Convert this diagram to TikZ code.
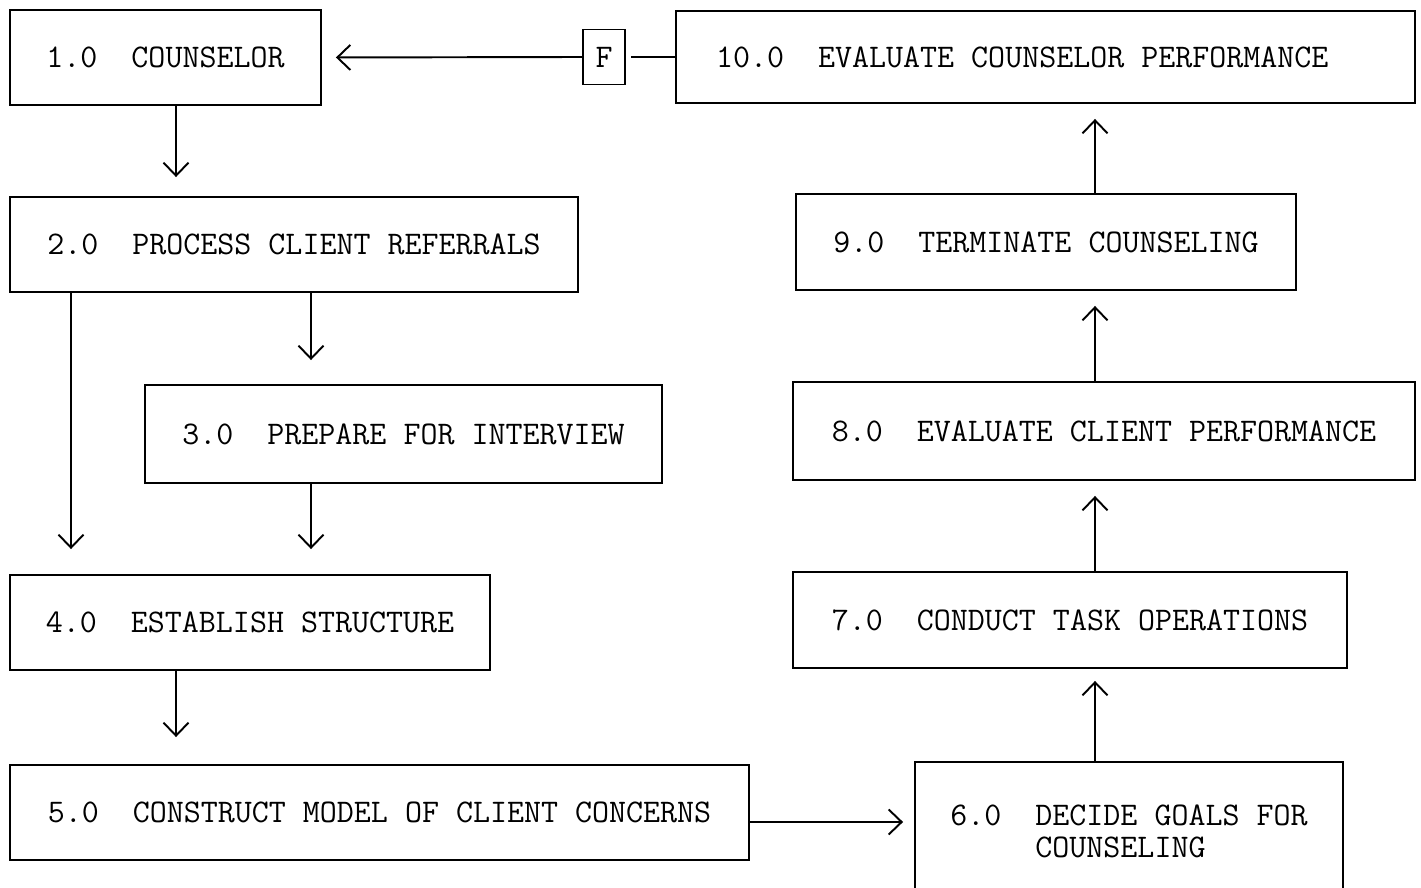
\documentclass[tikz,border=0pt]{standalone}
\usetikzlibrary{arrows.meta,calc}
\tikzset{every picture/.style={/utils/exec={\ttfamily}}}
\tikzset{
  task/.style={draw, line width=1.1pt, inner sep=0pt, font=\fontsize{18.8}{18.2}\selectfont},
  flow/.style={-{Straight Barb[length=0.26cm,width=0.5cm]}, line width=1.1pt},
}

\begin{document}
\begin{tikzpicture}[x=0.02cm, y=-0.02cm]
  \useasboundingbox (0,0) rectangle (1421,888);
  \clip (0,0) rectangle (1421,888);

  % left column
  \node [task, minimum width=6.22cm, minimum height=1.90cm] (b1) at (165.5,57.5) {1.0\ \ COUNSELOR};
  \node [task, minimum width=11.36cm, minimum height=1.90cm] (b2) at (294,244.5) {2.0\ \ PROCESS CLIENT REFERRALS};
  \node [task, minimum width=10.34cm, minimum height=1.96cm] (b3) at (403.5,434) {3.0\ \ PREPARE FOR INTERVIEW};
  \node [task, minimum width=9.60cm, minimum height=1.90cm] (b4) at (250,622.5) {4.0\ \ ESTABLISH STRUCTURE};
  \node [task, minimum width=14.78cm, minimum height=1.90cm] (b5) at (379.5,812.5) {5.0\ \ CONSTRUCT MODEL OF CLIENT CONCERNS};

  % right column
  \node [task, minimum width=8.56cm, minimum height=2.76cm, align=left] (b6) at (1129,831)
    {6.0\ \ DECIDE GOALS FOR\\\hphantom{6.0\ \ }COUNSELING};
  \node [task, minimum width=11.08cm, minimum height=1.92cm] (b7) at (1070,620) {7.0\ \ CONDUCT TASK OPERATIONS};
  \node [task, minimum width=12.44cm, minimum height=1.96cm] (b8) at (1104,431) {8.0\ \ EVALUATE CLIENT PERFORMANCE};
  \node [task, minimum width=10.00cm, minimum height=1.92cm] (b9) at (1046,242) {9.0\ \ TERMINATE COUNSELING};
  \node [task, inner xsep=0.8cm, minimum height=1.84cm] (b10) at (1045.5,57)
    {\makebox[13.18cm][l]{10.0\ \ EVALUATE COUNSELOR PERFORMANCE}};

  % feedback
  \node [task, minimum width=0.84cm, minimum height=1.10cm] (fb) at (604,57) {F};
  \draw [line width=1.1pt, shorten >=0.1cm] (b10.west) -- (fb.east);
  \draw [flow, shorten >=0.28cm] (fb.west) -- (b1.east);

  \draw [flow, shorten >=0.38cm] ($(b1.south)+(10.5,0)$) -- ($(b2.north)+(-118,0)$);
  \draw [flow, shorten >=0.5cm] ($(b2.south)+(-223,0)$) -- ($(b4.north)+(-179,0)$);
  \draw [flow, shorten >=0.48cm] ($(b2.south)+(17,0)$) -- ($(b3.north)+(-92.5,0)$);
  \draw [flow, shorten >=0.5cm] ($(b3.south)+(-92.5,0)$) -- ($(b4.north)+(61,0)$);
  \draw [flow, shorten >=0.54cm] ($(b4.south)+(-74,0)$) -- ($(b5.north)+(-203.5,0)$);
  \draw [flow, shorten >=0.22cm] ($(b5.east)+(0,9.5)$) -- ($(b6.west)+(0,-9)$);

  \draw [flow, shorten >=0.24cm] ($(b6.north)+(-34,0)$) -- ($(b7.south)+(25,0)$);
  \draw [flow, shorten >=0.3cm] ($(b7.north)+(25,0)$) -- ($(b8.south)+(-9,0)$);
  \draw [flow, shorten >=0.3cm] ($(b8.north)+(-9,0)$) -- ($(b9.south)+(49,0)$);
  \draw [flow, shorten >=0.3cm] ($(b9.north)+(49,0)$) -- ($(b10.south)+(49.5,0)$);
\end{tikzpicture}
\end{document}
